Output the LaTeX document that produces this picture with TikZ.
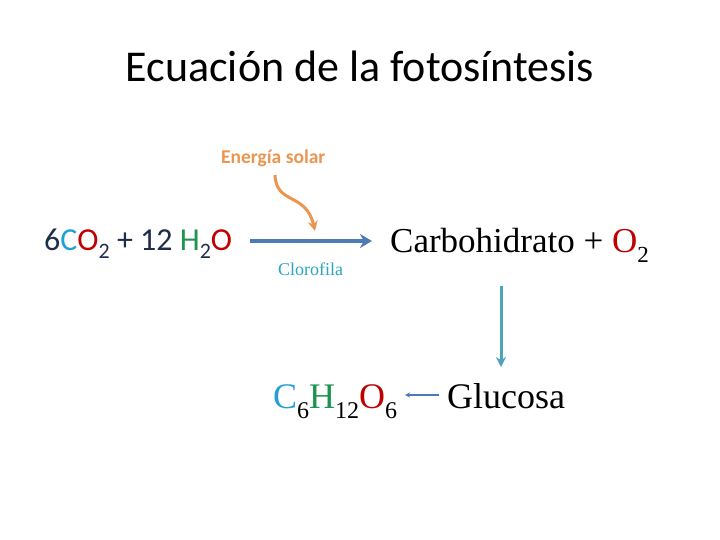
\documentclass[tikz,border=0pt]{standalone}
\usepackage{fontspec}
\setmainfont{Liberation Serif}
\newfontfamily\calfont{Carlito}
\usetikzlibrary{arrows.meta}
\definecolor{navy}{HTML}{1F2D4A}
\definecolor{cblue}{HTML}{22A0D6}
\definecolor{ored}{HTML}{C00000}
\definecolor{hgreen}{HTML}{1E9450}
\definecolor{orng}{HTML}{EA9550}
\definecolor{steel}{HTML}{4F7AB8}
\definecolor{teal}{HTML}{2AA5C0}
\definecolor{tealarrow}{HTML}{4BA3BE}
\tikzset{
  lbl/.style={inner sep=0pt, anchor=base west},
}
\begin{document}
\begin{tikzpicture}[x=1pt,y=-1pt]
\useasboundingbox (0,0) rectangle (720,540);
\node[inner sep=0pt, anchor=base] (title) at (360,82) {\calfont\fontsize{44}{48}\selectfont Ecuación de la fotosíntesis};
\node[lbl] (energy) at (221,164) {\calfont\bfseries\fontsize{19.5}{22}\selectfont\color{orng}Energía solar};
\node[lbl] (react) at (44,251) {\calfont\fontsize{32}{36}\selectfont\color{navy}6\textcolor{cblue}{C}\textcolor{ored}{O}\raisebox{-0.22em}{\fontsize{22}{24}\selectfont 2} + 12 \textcolor{hgreen}{H}\raisebox{-0.22em}{\fontsize{22}{24}\selectfont 2}\textcolor{ored}{O}};
\coordinate (a1) at (250,241);
\coordinate (a2) at (372,241);
\draw[steel, line width=4.5pt, -{Stealth[length=12pt,width=14pt]}] (a1) -- (a2);
\node[lbl] (cloro) at (278,275) {\fontsize{18}{20}\selectfont\color{teal}Clorofila};
\coordinate (e1) at (275,175);
\coordinate (e2) at (315,231);
\draw[orng, line width=3pt, -{Stealth[length=10pt,width=10pt]}] (e1) .. controls (276,205) and (306,192) .. (e2);
\node[lbl] (carbo) at (390,252) {\fontsize{35}{39}\selectfont Carbohidrato + \textcolor{ored}{O}\raisebox{-0.3em}{\fontsize{23}{25}\selectfont 2}};
\coordinate (v1) at (501,286);
\coordinate (v2) at (501,367);
\draw[tealarrow, line width=3pt, -{Stealth[length=10pt,width=10pt]}] (v1) -- (v2);
\node[lbl] (gluc) at (447,408) {\fontsize{36}{40}\selectfont Glucosa};
\node[lbl] (form) at (273,408) {\fontsize{36}{40}\selectfont\textcolor{cblue}{C}\raisebox{-0.3em}{\fontsize{24}{26}\selectfont 6}\textcolor{hgreen}{H}\raisebox{-0.3em}{\fontsize{24}{26}\selectfont 12}\textcolor{ored}{O}\raisebox{-0.3em}{\fontsize{24}{26}\selectfont 6}};
\coordinate (g1) at (439,395);
\coordinate (g2) at (405,395);
\draw[steel, line width=1.5pt, -{Stealth[length=5pt,width=5pt]}] (g1) -- (g2);
\end{tikzpicture}
\end{document}
